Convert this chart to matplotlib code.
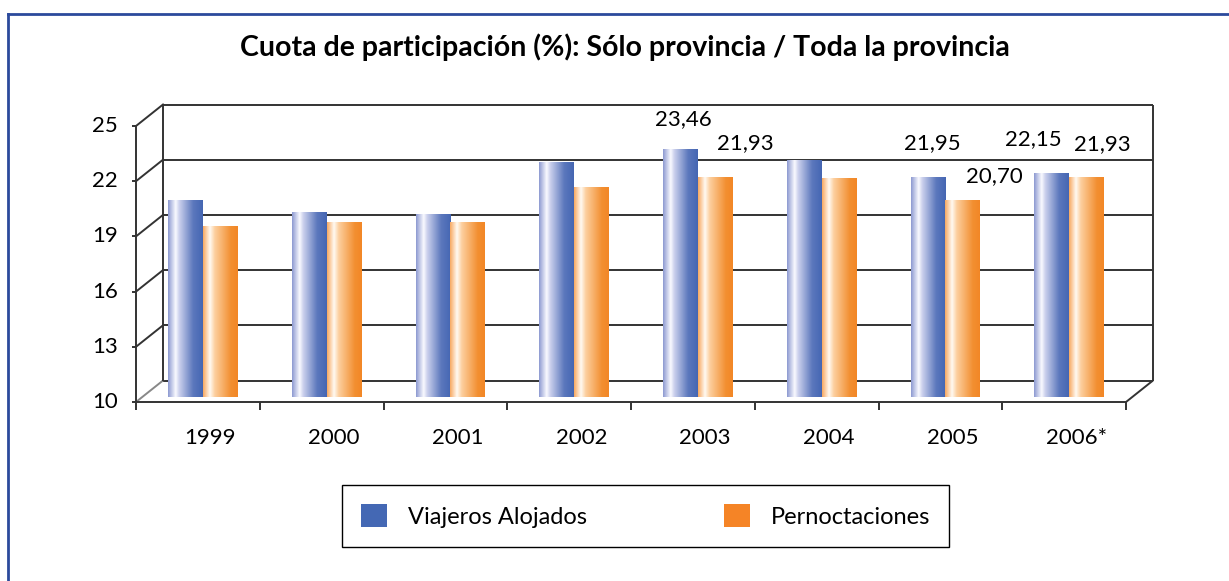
import numpy as np
import matplotlib
matplotlib.use("Agg")
import matplotlib.pyplot as plt
from matplotlib.colors import LinearSegmentedColormap
from matplotlib.patches import Patch
from matplotlib.lines import Line2D

plt.rcParams['font.family'] = ['Lato', 'DejaVu Sans']

# data
years = ['1999', '2000', '2001', '2002', '2003', '2004', '2005', '2006*']
viajeros = [20.68, 20.03, 19.92, 22.79, 23.46, 22.90, 21.95, 22.15]
pernoctaciones = [19.27, 19.49, 19.49, 21.44, 21.93, 21.92, 20.70, 21.93]
yticks = [10, 13, 16, 19, 22, 25]
title = 'Cuota de participación (%): Sólo provincia / Toda la provincia'
series_names = ['Viajeros Alojados', 'Pernoctaciones']

# labels shown only on some bars: (year index, series) -> offset in pixels
label_offsets = {
    (4, 0): (3, 20), (4, 1): (30, 24),
    (6, 0): (4, 24), (6, 1): (32, 14),
    (7, 0): (-18, 24), (7, 1): (16, 23),
}

W, H = 1229, 581
fig = plt.figure(figsize=(W / 100, H / 100), dpi=100)
ax = fig.add_axes([0, 0, 1, 1])
ax.axis('off')

# pixel layout of the pseudo 3d box
x0_px, cat_px = 136, 123.75      # front left edge, width of one category
y0_px, unit_px = 402, 18.4       # front value 10, pixels per unit

ymin, ymax = yticks[0], yticks[-1]
n = len(years)
dx, dy = 27 / cat_px, 21.5 / unit_px          # depth of the box
bx, by = 5 / cat_px, 5 / unit_px               # bar plane offset
line_kw = dict(color='#333333', lw=1.4, solid_capstyle='butt', zorder=2)

# back wall + side wall grid
for t in yticks:
    ax.plot([-0.5 + dx, n - 0.5 + dx], [t + dy, t + dy], **line_kw)
    c = '#888888' if t == ymin else '#333333'
    ax.plot([-0.5, -0.5 + dx], [t, t + dy], color=c, lw=1.4, zorder=2)
ax.plot([-0.5 + dx, -0.5 + dx], [ymin + dy, ymax + dy], **line_kw)
ax.plot([n - 0.5 + dx, n - 0.5 + dx], [ymin + dy, ymax + dy], **line_kw)
# floor
ax.plot([-0.5, n - 0.5], [ymin, ymin], **line_kw)
ax.plot([n - 0.5, n - 0.5 + dx], [ymin, ymin + dy], **line_kw)
# front y axis
ax.plot([-0.5, -0.5], [ymin, ymax], **line_kw)
tick_len = 8 / unit_px
for k in range(n + 1):
    ax.plot([k - 0.5, k - 0.5], [ymin, ymin - tick_len], **line_kw)
for t in yticks:
    ax.plot([-0.5 - 4 / cat_px, -0.5], [t, t], **line_kw)
    ax.text(-0.5 - 18 / cat_px, t, str(t), ha='right', va='center',
            fontsize=16, color='black')

# category labels
for i, yr in enumerate(years):
    ax.text(i + 0.1, ymin - 36 / unit_px, yr, ha='center', va='center',
            fontsize=16, color='black')

# gradient bars
blue_cmap = LinearSegmentedColormap.from_list('b', [
    (0.0, (0.55, 0.60, 0.82)), (0.22, (0.98, 0.98, 1.0)), (0.32, (0.80, 0.82, 0.93)),
    (0.72, (0.36, 0.47, 0.74)), (1.0, (0.27, 0.40, 0.70))])
orange_cmap = LinearSegmentedColormap.from_list('o', [
    (0.0, (0.97, 0.66, 0.38)), (0.2, (1.0, 0.98, 0.95)), (0.34, (0.99, 0.81, 0.62)),
    (0.8, (0.95, 0.56, 0.19)), (1.0, (0.95, 0.53, 0.15))])
grad = np.linspace(0, 1, 256).reshape(1, -1)

w = 0.28
x = np.arange(n)
for s, (vals, cmap) in enumerate([(viajeros, blue_cmap), (pernoctaciones, orange_cmap)]):
    xs = x + bx + (s - 0.5) * w
    bars = ax.bar(xs, np.array(vals) - ymin, bottom=ymin + by, width=w,
                  color='none', edgecolor='none', zorder=3)
    for rect in bars:
        bx0, by0 = rect.get_x(), rect.get_y()
        im = ax.imshow(grad, cmap=cmap, aspect='auto', zorder=3,
                       extent=[bx0, bx0 + rect.get_width(), by0, by0 + rect.get_height()])
        im.set_clip_path(rect)

# value labels
for (i, s), (ox, oy) in label_offsets.items():
    v = viajeros[i] if s == 0 else pernoctaciones[i]
    xc = i + bx + (s - 0.5) * w
    ax.annotate(f'{v:.2f}'.replace('.', ','), (xc, v + by),
                xytext=(ox, oy), textcoords='offset pixels',
                ha='center', va='bottom', fontsize=16, color='black', zorder=5)

ax.set_xlim(-0.5 - x0_px / cat_px, -0.5 + (W - x0_px) / cat_px)
ax.set_ylim(10 - (H - y0_px) / unit_px, 10 + y0_px / unit_px)

# title
fig.text(625 / W, 1 - 47 / H, title, ha='center', va='center',
         fontsize=20.5, fontweight='bold', color='black')

# legend
handles = [Patch(facecolor='#4468b4', edgecolor='none'),
           Patch(facecolor='#f58426', edgecolor='none')]
leg = fig.legend(handles, series_names, loc='center',
                 bbox_to_anchor=(645.5 / W, 1 - 516 / H), ncol=2,
                 fontsize=17, frameon=True, fancybox=False, shadow=False,
                 edgecolor='black', framealpha=1, handlelength=1.1,
                 handleheight=1.1, handletextpad=0.9, columnspacing=5.8,
                 borderpad=0.8)
leg.get_frame().set_linewidth(1.0)

# blue outer frame (cut at right and bottom)
fig.add_artist(Line2D([8 / W, 8 / W], [0, 1 - 14 / H], color='#2b4a9c', lw=2,
                      transform=fig.transFigure))
fig.add_artist(Line2D([8 / W, 1], [1 - 14 / H, 1 - 14 / H], color='#2b4a9c', lw=2,
                      transform=fig.transFigure))

fig.savefig('out.png', dpi=100)
